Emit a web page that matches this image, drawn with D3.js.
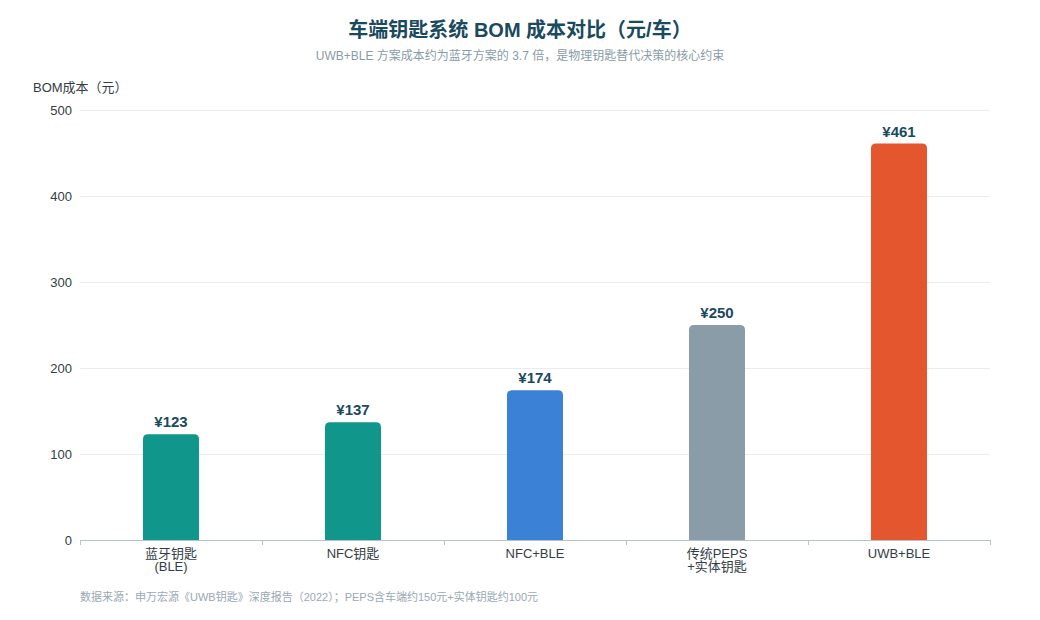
<!DOCTYPE html>
<html><head><meta charset="utf-8">
<script src="https://cdn.jsdelivr.net/npm/d3@7"></script>
<style>
body{margin:0;background:#fff;}
svg{display:block;font-family:"Liberation Sans","Noto Sans CJK SC",sans-serif;}
</style></head>
<body><svg id="c" width="1040" height="620"></svg>
<script>
const categories = [["蓝牙钥匙","(BLE)"],["NFC钥匙"],["NFC+BLE"],["传统PEPS","+实体钥匙"],["UWB+BLE"]];
const values = [123,137,174,250,461];
const colors = ["#10968a","#10968a","#3b82d6","#8a9ca8","#e4572e"];
const yTicks = [0,100,200,300,400,500];

const svg = d3.select("#c");
const m = {l:80, r:50, t:110, b:80};
const W = 1040, H = 620;
const x = d3.scaleBand().domain(d3.range(values.length)).range([m.l, W-m.r]);
const y = d3.scaleLinear().domain([0,500]).range([H-m.b, m.t]);

svg.append("text").attr("x",520).attr("y",37).attr("text-anchor","middle")
  .attr("font-size",20).attr("font-weight","bold").attr("fill","#1a4a5e")
  .text("车端钥匙系统 BOM 成本对比（元/车）");
svg.append("text").attr("x",520).attr("y",60).attr("text-anchor","middle")
  .attr("font-size",12).attr("fill","#8a9ba8")
  .text("UWB+BLE 方案成本约为蓝牙方案的 3.7 倍，是物理钥匙替代决策的核心约束");

svg.append("text").attr("x",33).attr("y",92).attr("font-size",13).attr("fill","#333d45").text("BOM成本（元）");

// grid
svg.append("g").selectAll("line").data(yTicks.filter(d=>d>0)).join("line")
  .attr("x1",m.l).attr("x2",W-m.r).attr("y1",d=>y(d)+0.5).attr("y2",d=>y(d)+0.5)
  .attr("stroke","#e8edf1").attr("stroke-width",1);

// y labels
svg.append("g").selectAll("text").data(yTicks).join("text")
  .attr("x",72).attr("y",d=>y(d)+4.5).attr("text-anchor","end")
  .attr("font-size",13).attr("fill","#333d45").text(d=>d);

// bars
const bw = 56, r = 5;
svg.append("g").selectAll("path").data(values).join("path")
  .attr("fill",(d,i)=>colors[i])
  .attr("d",(d,i)=>{
    const x0 = x(i)+x.bandwidth()/2-bw/2, x1 = x0+bw, y0 = y(d), yb = y(0);
    return `M${x0},${yb}V${y0+r}Q${x0},${y0} ${x0+r},${y0}H${x1-r}Q${x1},${y0} ${x1},${y0+r}V${yb}Z`;
  });

// value labels
svg.append("g").selectAll("text").data(values).join("text")
  .attr("x",(d,i)=>x(i)+x.bandwidth()/2).attr("y",d=>y(d)-7)
  .attr("text-anchor","middle").attr("font-size",15).attr("font-weight","bold")
  .attr("fill","#1a4a5e").text(d=>"¥"+d);

// x axis
const xa = svg.append("g");
xa.append("line").attr("x1",m.l).attr("x2",W-m.r).attr("y1",y(0)+0.5).attr("y2",y(0)+0.5)
  .attr("stroke","#b4c2cc");
const bounds = d3.range(values.length+1).map(i=>i<values.length?x(i):W-m.r);
xa.selectAll("line.t").data(bounds).join("line").attr("class","t")
  .attr("x1",d=>Math.round(d)+0.5).attr("x2",d=>Math.round(d)+0.5)
  .attr("y1",y(0)).attr("y2",y(0)+5).attr("stroke","#b4c2cc");
const xl = xa.selectAll("text").data(categories).join("text")
  .attr("x",(d,i)=>x(i)+x.bandwidth()/2).attr("text-anchor","middle")
  .attr("font-size",13).attr("fill","#333d45");
xl.each(function(d){
  d3.select(this).selectAll("tspan").data(d).join("tspan")
    .attr("x",d3.select(this).attr("x")).attr("y",(t,j)=>y(0)+18+j*13).text(t=>t);
});

svg.append("text").attr("x",80).attr("y",601).attr("font-size",11).attr("fill","#9aa8b4")
  .text("数据来源：申万宏源《UWB钥匙》深度报告（2022）；PEPS含车端约150元+实体钥匙约100元");
</script></body></html>
